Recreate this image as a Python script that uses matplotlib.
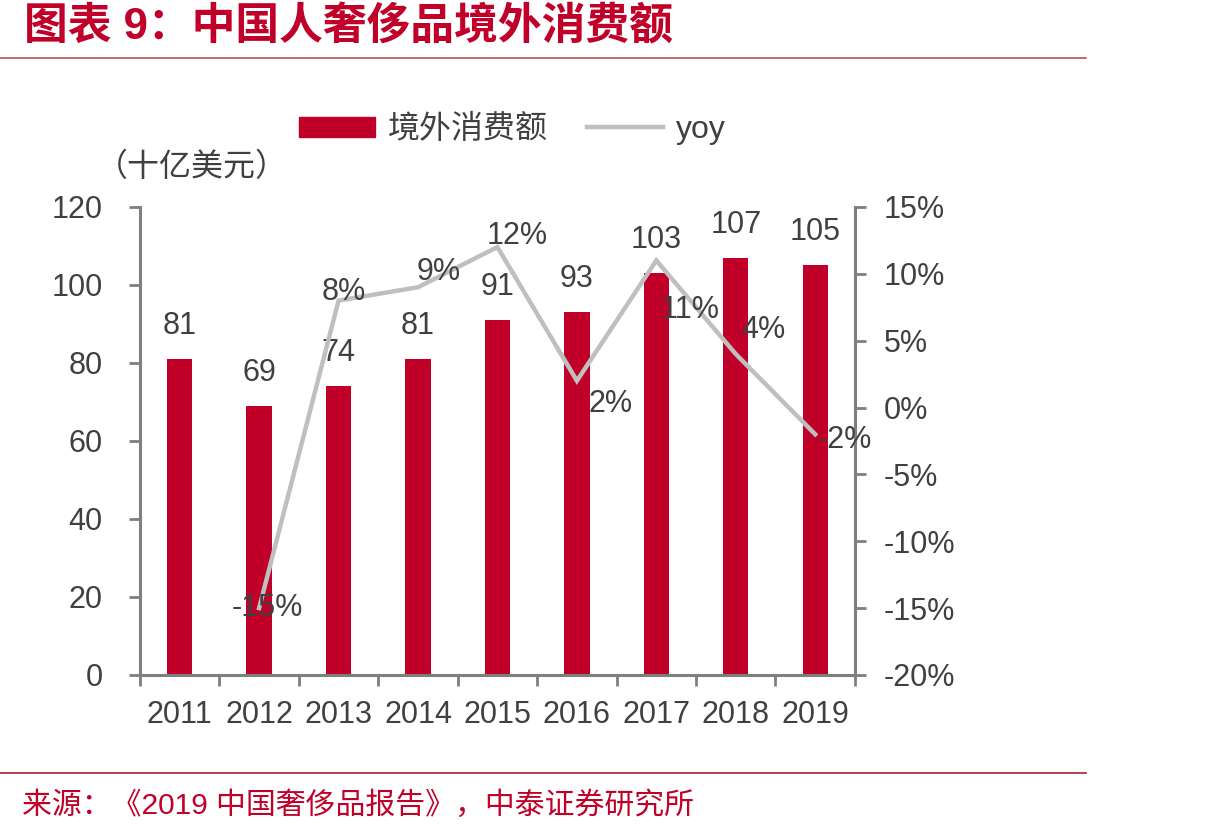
import matplotlib
matplotlib.use("Agg")
import matplotlib.pyplot as plt
import matplotlib.ticker as mticker

plt.rcParams['font.family'] = ['Liberation Sans', 'Noto Sans CJK SC', 'DejaVu Sans']

years = ['2011', '2012', '2013', '2014', '2015', '2016', '2017', '2018', '2019']
spend = [81, 69, 74, 81, 91, 93, 103, 107, 105]
yoy_years = years[1:]
yoy = [-15, 8, 9, 12, 2, 11, 4, -2]
# label offsets (points) for the yoy values, as placed in the source chart
yoy_off = [(6, 0), (4, 6), (15, 11), (14, 8), (24, -17), (24, -36), (20, 17), (21, -4)]

red = '#C00029'
grey_line = '#BFBFBF'
axis_col = '#7F7F7F'
txt_col = '#404040'

fig = plt.figure(figsize=(12.17, 8.39), dpi=100)
ax = fig.add_axes([0.115, 0.1955, 0.5875, 0.5578])
ax2 = ax.twinx()

x = list(range(len(years)))
ax.bar(x, spend, width=0.32, color=red, zorder=2)
for xi, v in zip(x, spend):
    ax.annotate(str(v), (xi, v), xytext=(0, 13), textcoords='offset points',
                ha='center', va='bottom', fontsize=22, color=txt_col)

xl = x[1:]
ax2.plot(xl, yoy, color=grey_line, lw=3.2, solid_joinstyle='miter', zorder=3)
for xi, v, (dx, dy) in zip(xl, yoy, yoy_off):
    ax2.annotate(f'{v}%', (xi, v), xytext=(dx, dy), textcoords='offset points',
                 ha='center', va='center', fontsize=22, color=txt_col, zorder=5)

ax.set_xlim(-0.5, len(years) - 0.5)
ax.set_ylim(0, 120)
ax.set_yticks(range(0, 121, 20))
ax2.set_ylim(-20, 15)
ax2.set_yticks(range(-20, 16, 5))
ax2.yaxis.set_major_formatter(mticker.FuncFormatter(lambda v, p: f'{int(v)}%'))

ax.set_xticks(x)
ax.set_xticklabels(years)
ax.set_xticks([i - 0.5 for i in range(len(years) + 1)], minor=True)
ax.tick_params(axis='x', which='major', length=0, pad=18, labelsize=22, labelcolor=txt_col)
ax.tick_params(axis='x', which='minor', length=8, width=2, color=axis_col, direction='out')
ax.tick_params(axis='y', length=8, width=2, color=axis_col, pad=19, labelsize=22, labelcolor=txt_col)
ax2.tick_params(axis='y', length=8, width=2, color=axis_col, pad=13, labelsize=22, labelcolor=txt_col)

for a in (ax, ax2):
    a.spines['top'].set_visible(False)
    for s in ('left', 'right', 'bottom'):
        a.spines[s].set_color(axis_col)
        a.spines[s].set_linewidth(2.2)
ax.spines['right'].set_visible(False)
ax2.spines['left'].set_visible(False)
ax2.spines['bottom'].set_visible(False)

# legend
h1 = plt.Rectangle((0, 0), 1, 1, color=red)
h2 = plt.Line2D([], [], color=grey_line, lw=3.2)
fig.legend([h1, h2], ['境外消费额', 'yoy'], loc='center', bbox_to_anchor=(0.421, 0.845),
           ncol=2, frameon=False, fontsize=23, handlelength=2.4, handleheight=0.6,
           handletextpad=0.4, columnspacing=1.2, labelcolor=txt_col)

fig.text(0.158, 0.80, '（十亿美元）', ha='center', va='center', fontsize=23, color=txt_col)

# title, rules and source
fig.text(0.02, 0.968, '图表 9：中国人奢侈品境外消费额', ha='left', va='center',
         fontsize=31.5, fontweight='bold', color=red)
fig.add_artist(plt.Line2D([0, 0.892], [0.931, 0.931], color='#C0504D', lw=1.2))
fig.add_artist(plt.Line2D([0, 0.892], [0.079, 0.079], color='#A0282E', lw=1.2))
fig.text(0.018, 0.04, '来源：《2019 中国奢侈品报告》，中泰证券研究所', ha='left', va='center',
         fontsize=21.5, color=red)

fig.savefig('out.png', dpi=100)
